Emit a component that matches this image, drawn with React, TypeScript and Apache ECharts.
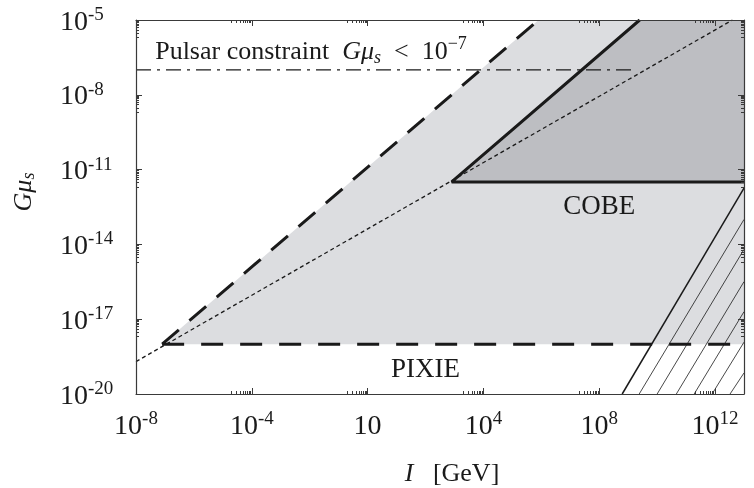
import React, { useEffect, useRef } from "react";
import * as echarts from "echarts";

const FONT = '"Liberation Serif", "DejaVu Serif", "Times New Roman", serif';
const INK = "#1a1a1a";
const AXIS = "#3a3a3a";
const LIGHT = "#dcdde0";
const DARK = "#bdbec2";

// axis ranges (I in GeV, G mu_s dimensionless)
const xRange = [1e-8, 1e13];
const yRange = [1e-20, 1e-5];

// tick positions and their superscript labels
const xTickValues = [1e-8, 1e-4, 1, 1e4, 1e8, 1e12];
const xTickSup = ["-8", "-4", "", "4", "8", "12"];
const yTickValues = [1e-20, 1e-17, 1e-14, 1e-11, 1e-8, 1e-5];
const yTickSup = ["-20", "-17", "-14", "-11", "-8", "-5"];

// allowed (light grey) region
const allowedI = [8e-8, 8e5, 1e13, 1e13];
const allowedG = [1e-18, 1e-5, 1e-5, 1e-18];
// COBE (dark grey) region
const cobeI = [8e2, 2.5e9, 1e13, 1e13];
const cobeG = [3.2e-12, 1e-5, 1e-5, 3.2e-12];

// boundary curves
const upperDashI = [8e-8, 8e5];
const upperDashG = [1e-18, 1e-5];
const cobeLineI = [2.5e9, 8e2, 1e13];
const cobeLineG = [1e-5, 3.2e-12, 3.2e-12];
const pixieLineI = [8e-8, 1e13];
const pixieLineG = [1e-18, 1e-18];
const dottedI = [1e-8, 4e12];
const dottedG = [2e-19, 1e-5];
const pulsarI = [1e-8, 2e9];
const pulsarG = [1e-7, 1e-7];
const hatchEdgeI = [6.2e8, 1e13];
const hatchEdgeG = [1e-20, 1.8e-12];
// hatch strokes: start on the bottom axis (I), end on the right axis (G)
const hatchStartI = [2.4e9, 1e10, 4.6e10, 1.9e11, 7.9e11, 3.3e12];
const hatchEndG = [1e-13, 6.3e-15, 3.2e-16, 2e-17, 1.2e-18, 7e-20];

// annotation anchors
const pixieLabelAt = [1e2, 1.15e-19];
const cobeLabelAt = [1e8, 3.8e-13];
const pulsarLabelAt = [4.6e-8, 6e-7];

const lg = (v: number) => Math.log10(v);

const minorTicks = (majors: number[], min: number, max: number) => {
  const out: number[] = [];
  majors.forEach((m) => {
    for (let k = 2; k <= 9; k++) {
      const v = m - 1 + Math.log10(k);
      if (v > min + 1e-9 && v < max - 1e-9) out.push(v);
    }
  });
  return out;
};

const pts = (I: number[], G: number[]) => I.map((v, i) => [lg(v), lg(G[i])]);

const polygonSeries = (I: number[], G: number[], fill: string, z: number) => ({
  type: "custom",
  xAxisIndex: 0,
  yAxisIndex: 0,
  silent: true,
  z,
  data: pts(I, G),
  encode: { x: 0, y: 1 },
  renderItem: (params: any, api: any) => {
    if (params.dataIndex !== 0) return null;
    const points = pts(I, G).map((p) => api.coord(p));
    return { type: "polygon", shape: { points }, style: { fill, stroke: "none" } };
  },
});

const lineSeries = (I: number[], G: number[], lineStyle: any, z: number) => ({
  type: "line",
  xAxisIndex: 0,
  yAxisIndex: 0,
  silent: true,
  z,
  symbol: "none",
  data: pts(I, G),
  lineStyle,
});

const xMin = lg(xRange[0]);
const xMax = lg(xRange[1]);
const yMin = lg(yRange[0]);
const yMax = lg(yRange[1]);
const xMajor = xTickValues.map(lg);
const yMajor = yTickValues.map(lg);
const xMinor = minorTicks(xMajor, xMin, xMax);
const yMinor = minorTicks(yMajor, yMin, yMax);

const labelRich = {
  b: { fontFamily: FONT, fontSize: 28, color: INK, lineHeight: 32 },
  s: { fontFamily: FONT, fontSize: 19, color: INK, lineHeight: 20, verticalAlign: "top" },
};

const fmt = (majors: number[], sups: string[]) => (v: number) => {
  const i = majors.findIndex((m) => Math.abs(m - v) < 1e-6);
  const sup = i >= 0 ? sups[i] : "";
  return sup ? `{b|10}{s|${sup}}` : "{b|10}";
};

const baseX = { type: "value", min: xMin, max: xMax, splitLine: { show: false }, z: 10 };
const baseY = { type: "value", min: yMin, max: yMax, splitLine: { show: false }, z: 10 };
const tickLine = { color: AXIS, width: 1 };
const mainLine = { show: true, onZero: false, lineStyle: { color: AXIS, width: 1.2 } };
const noLine = { show: false, onZero: false };

const option: any = {
  animation: false,
  grid: { left: 136, right: 10, top: 20, bottom: 94, outerBoundsMode: "none" },
  xAxis: [
    {
      ...baseX,
      position: "bottom",
      axisLine: mainLine,
      axisTick: { show: true, inside: true, length: 6, customValues: xMajor, lineStyle: tickLine },
      axisLabel: {
        show: true,
        customValues: xMajor,
        formatter: fmt(xMajor, xTickSup),
        rich: labelRich,
        margin: 14,
      },
    },
    {
      ...baseX,
      position: "bottom",
      axisLine: noLine,
      axisTick: { show: true, inside: true, length: 3, customValues: xMinor, lineStyle: tickLine },
      axisLabel: { show: false },
    },
    {
      ...baseX,
      position: "top",
      axisLine: mainLine,
      axisTick: { show: true, inside: true, length: 6, customValues: xMajor, lineStyle: tickLine },
      axisLabel: { show: false },
    },
    {
      ...baseX,
      position: "top",
      axisLine: noLine,
      axisTick: { show: true, inside: true, length: 3, customValues: xMinor, lineStyle: tickLine },
      axisLabel: { show: false },
    },
  ],
  yAxis: [
    {
      ...baseY,
      position: "left",
      axisLine: mainLine,
      axisTick: { show: true, inside: true, length: 6, customValues: yMajor, lineStyle: tickLine },
      axisLabel: {
        show: true,
        customValues: yMajor,
        formatter: fmt(yMajor, yTickSup),
        rich: labelRich,
        align: "left",
        margin: 76,
      },
    },
    {
      ...baseY,
      position: "left",
      axisLine: noLine,
      axisTick: { show: true, inside: true, length: 3, customValues: yMinor, lineStyle: tickLine },
      axisLabel: { show: false },
    },
    {
      ...baseY,
      position: "right",
      axisLine: mainLine,
      axisTick: { show: true, inside: true, length: 6, customValues: yMajor, lineStyle: tickLine },
      axisLabel: { show: false },
    },
    {
      ...baseY,
      position: "right",
      axisLine: noLine,
      axisTick: { show: true, inside: true, length: 3, customValues: yMinor, lineStyle: tickLine },
      axisLabel: { show: false },
    },
  ],
  series: [
    polygonSeries(allowedI, allowedG, LIGHT, 1),
    polygonSeries(cobeI, cobeG, DARK, 1),
    {
      type: "custom",
      xAxisIndex: 0,
      yAxisIndex: 0,
      silent: true,
      z: 2,
      data: hatchStartI.map((v, i) => [lg(v), yMin, xMax, lg(hatchEndG[i])]),
      encode: { x: [0, 2], y: [1, 3] },
      renderItem: (_p: any, api: any) => {
        const a = api.coord([api.value(0), api.value(1)]);
        const b = api.coord([api.value(2), api.value(3)]);
        return {
          type: "line",
          shape: { x1: a[0], y1: a[1], x2: b[0], y2: b[1] },
          style: { stroke: INK, lineWidth: 0.8 },
        };
      },
    },
    lineSeries(hatchEdgeI, hatchEdgeG, { color: INK, width: 1.5, type: "solid" }, 3),
    lineSeries(dottedI, dottedG, { color: INK, width: 1.3, type: [4, 3] }, 3),
    lineSeries(pulsarI, pulsarG, { color: INK, width: 1.4, type: [15, 6, 3, 6] }, 3),
    lineSeries(pixieLineI, pixieLineG, { color: INK, width: 3, type: [22, 17] }, 4),
    lineSeries(upperDashI, upperDashG, { color: INK, width: 3, type: [22, 14] }, 4),
    lineSeries(cobeLineI, cobeLineG, { color: INK, width: 3, type: "solid" }, 4),
  ],
};

export default function App() {
  const ref = useRef<HTMLDivElement>(null);
  useEffect(() => {
    const chart = echarts.init(ref.current as HTMLDivElement, null, { renderer: "svg" });
    chart.setOption(option);
    const px = (p: number[]) => chart.convertToPixel({ gridIndex: 0 }, [lg(p[0]), lg(p[1])]) as number[];
    const pixie = px(pixieLabelAt);
    const cobe = px(cobeLabelAt);
    const pulsar = px(pulsarLabelAt);
    chart.setOption({
      graphic: [
        {
          type: "text",
          x: pixie[0],
          y: pixie[1],
          z: 20,
          style: { text: "PIXIE", fontFamily: FONT, fontSize: 27, fill: INK, align: "center", verticalAlign: "middle" },
        },
        {
          type: "text",
          x: cobe[0],
          y: cobe[1],
          z: 20,
          style: { text: "COBE", fontFamily: FONT, fontSize: 27, fill: INK, align: "center", verticalAlign: "middle" },
        },
        {
          type: "text",
          x: pulsar[0],
          y: pulsar[1],
          z: 20,
          style: {
            text: "{n|Pulsar constraint  }{i|Gμ}{sub|s}{n|  <  10}{sup|−7}",
            fontFamily: FONT,
            fontSize: 26,
            fill: INK,
            align: "left",
            verticalAlign: "middle",
            rich: {
              n: { fontFamily: FONT, fontSize: 26, color: INK, lineHeight: 32 },
              i: { fontFamily: FONT, fontSize: 26, fontStyle: "italic", color: INK, lineHeight: 32 },
              sub: { fontFamily: FONT, fontSize: 18, fontStyle: "italic", color: INK, lineHeight: 24, verticalAlign: "bottom" },
              sup: { fontFamily: FONT, fontSize: 18, color: INK, lineHeight: 20, verticalAlign: "top" },
            },
          },
        },
        {
          type: "text",
          x: 452,
          y: 472,
          z: 20,
          style: {
            text: "{i|I}{n|   [GeV]}",
            fill: INK,
            align: "center",
            verticalAlign: "middle",
            rich: {
              i: { fontFamily: FONT, fontSize: 26, fontStyle: "italic", color: INK, lineHeight: 30 },
              n: { fontFamily: FONT, fontSize: 26, color: INK, lineHeight: 30 },
            },
          },
        },
        {
          type: "text",
          x: 22,
          y: 192,
          rotation: Math.PI / 2,
          z: 20,
          style: {
            text: "{i|Gμ}{sub|s}",
            fill: INK,
            align: "center",
            verticalAlign: "middle",
            rich: {
              i: { fontFamily: FONT, fontSize: 26, fontStyle: "italic", color: INK, lineHeight: 30 },
              sub: { fontFamily: FONT, fontSize: 18, fontStyle: "italic", color: INK, lineHeight: 22, verticalAlign: "bottom" },
            },
          },
        },
      ],
    });
    return () => chart.dispose();
  }, []);
  return <div ref={ref} style={{ position: "fixed", left: 0, top: 0, width: 754, height: 488 }} />;
}
